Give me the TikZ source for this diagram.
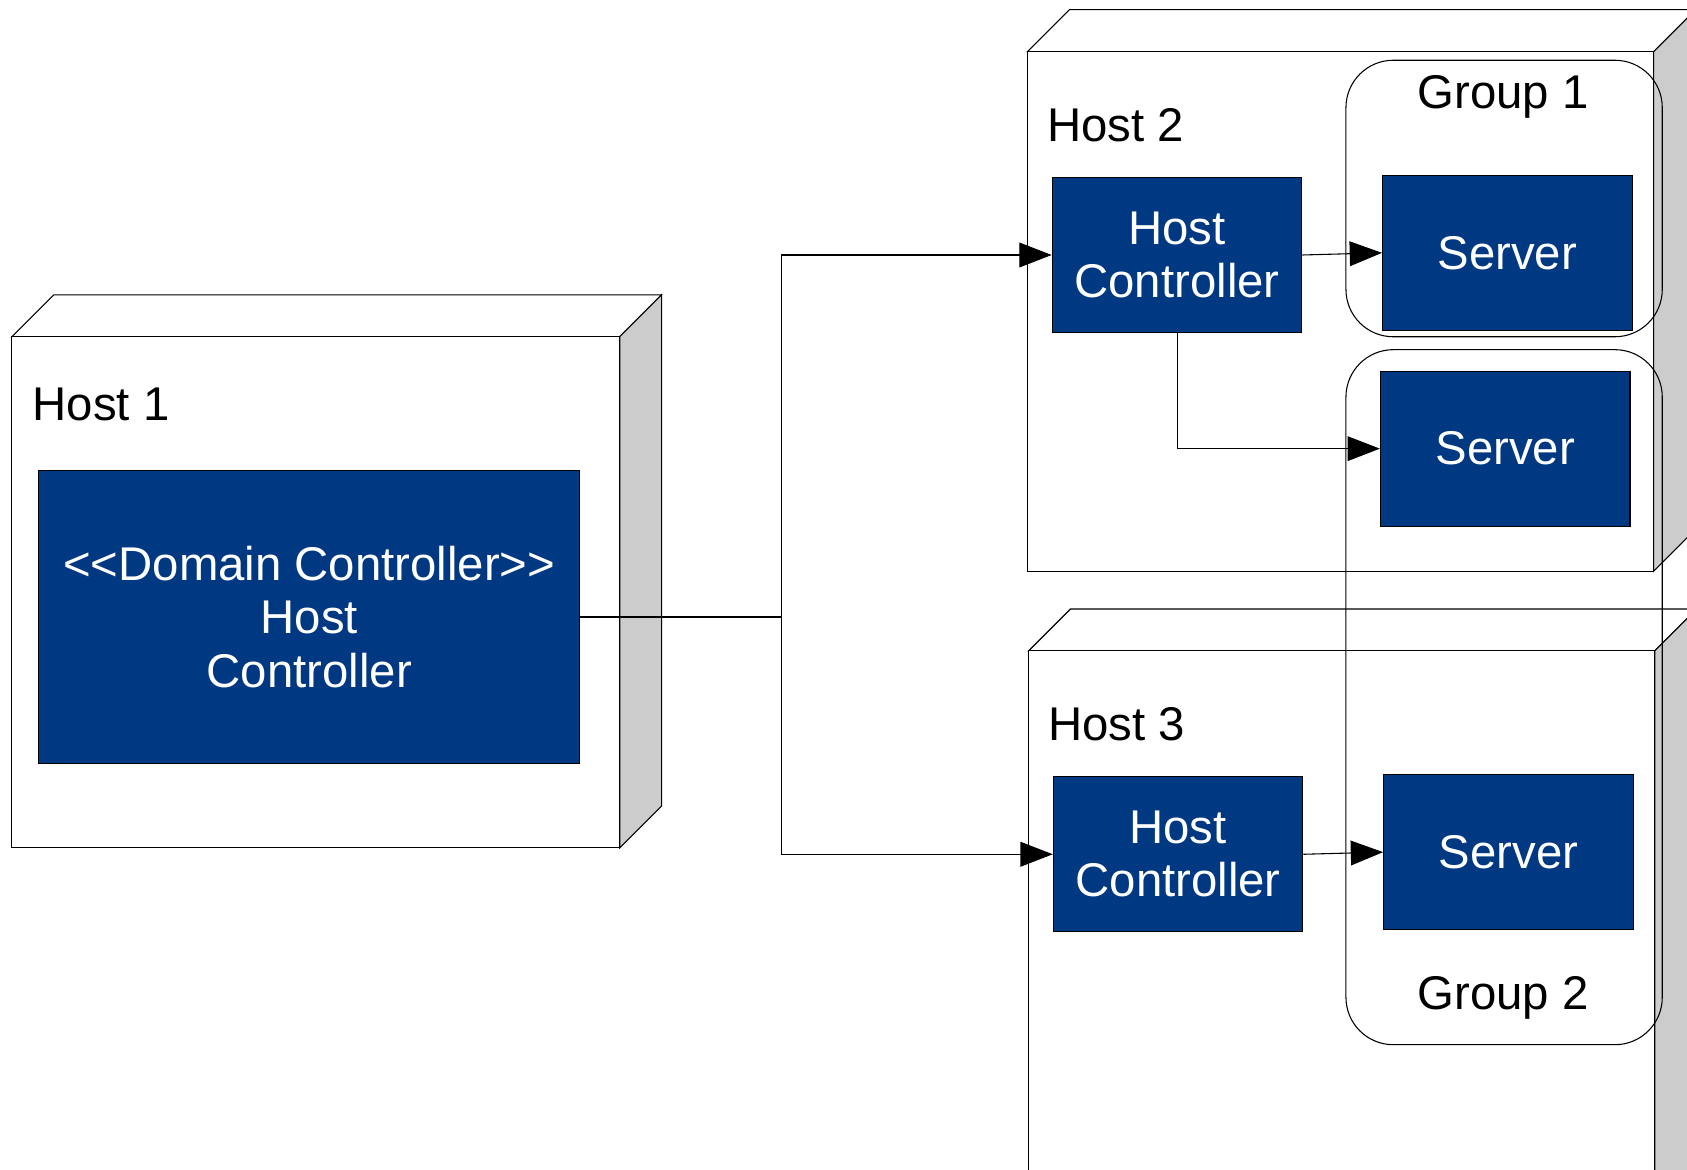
\documentclass[tikz,border=0pt]{standalone}
\usepackage{fontspec}
\setmainfont[Ligatures=NoCommon]{Liberation Sans}
\usetikzlibrary{arrows.meta}
\definecolor{boxblue}{RGB}{0,56,130}
\definecolor{sidegray}{RGB}{204,204,204}
\tikzset{
  edge/.style={line width=0.5pt, draw=black},
  bluebox/.style={draw=black, line width=0.5pt, fill=boxblue, text=white, align=center,
    inner sep=0pt, minimum width=116pt, minimum height=72pt,
    font=\fontsize{22pt}{24.75pt}\selectfont},
  hostlabel/.style={anchor=west, inner sep=0pt, font=\fontsize{22pt}{24.75pt}\selectfont},
  grouplabel/.style={anchor=base, inner sep=0pt, font=\fontsize{22pt}{24.75pt}\selectfont},
  groupbox/.style={draw=black, line width=0.5pt, rounded corners=22pt},
  conn/.style={draw=black, line width=0.5pt, -{Triangle[length=15pt, width=11.5pt]}},
  line/.style={draw=black, line width=0.5pt}
}
\newcommand{\hostbox}[4]{%
  \filldraw[edge, fill=white] (#1,#2) -- ++(39,-39) -- (#3+39,#2-39) -- (#3,#2) -- cycle;
  \filldraw[edge, fill=sidegray] (#3,#2) -- (#3+39,#2-39) -- (#3+39,#4-39) -- (#3,#4) -- cycle;
  \filldraw[edge, fill=white] (#1,#2) rectangle (#3,#4);
}
\begin{document}
\begin{tikzpicture}[x=0.5pt, y=-0.5pt]
\useasboundingbox (0,0) rectangle (1568,1087);
\clip (0,0) rectangle (1568,1087);
\fill[white] (0,0) rectangle (1568,1087);

% hosts
\hostbox{11}{313}{576}{788}
\hostbox{955}{48}{1537}{531}
\hostbox{956}{605}{1538}{1140}

\node[hostlabel] (h1) at (30,376) {Host 1};
\node[hostlabel] (h2) at (973,116) {Host 2};
\node[hostlabel] (h3) at (974,673) {Host 3};

% groups
\draw[groupbox] (1251,56) rectangle (1545,313);
\draw[groupbox] (1251,325) rectangle (1545,971);
\node[grouplabel] (g1) at (1397,101) {Group 1};
\node[grouplabel] (g2) at (1397,938) {Group 2};

% boxes
\node[bluebox, minimum width=251.5pt, minimum height=136.5pt] (dc) at (287.5,573.5)
  {{<}{<}Domain Controller{>}{>}\\Host\\Controller};
\node[bluebox] (hc2) at (1094,237) {Host\\Controller};
\node[bluebox] (hc3) at (1095,794) {Host\\Controller};
\node[bluebox] (s1) at (1401,235) {Server};
\node[bluebox] (s2) at (1399,417) {Server};
\node[bluebox] (s3) at (1402,792) {Server};

% connectors
\coordinate (j) at (726,573.5);
\draw[line] (dc.east) -- (j);
\draw[conn] (j) |- (hc2.west);
\draw[conn] (j) |- (hc3.west);
\draw[conn] (hc2.east) -- (s1.west);
\draw[conn] (hc2.south) |- (s2.west);
\draw[conn] (hc3.east) -- (s3.west);
\end{tikzpicture}
\end{document}
